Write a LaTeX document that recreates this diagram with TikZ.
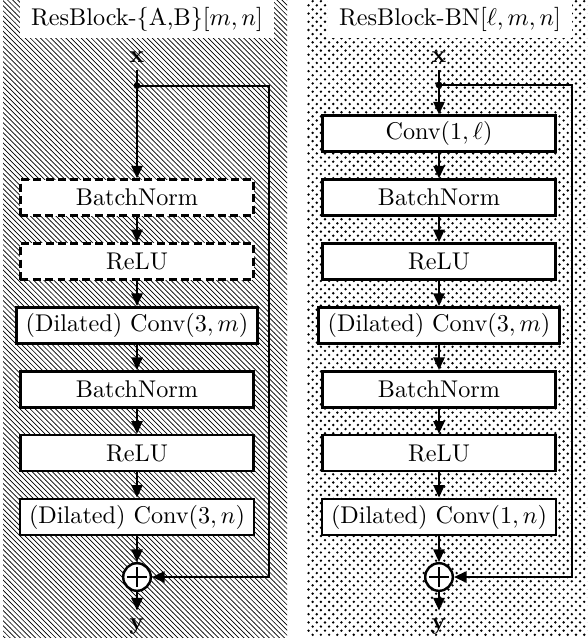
\documentclass[tikz,border=0pt]{standalone}
\usetikzlibrary{patterns,arrows.meta}

% fine diagonal hatching and fine staggered dots for the two panels
\pgfdeclarepatternformonly{fine nw lines}{\pgfqpoint{-0.5pt}{-0.5pt}}{\pgfqpoint{2.6pt}{2.6pt}}{\pgfqpoint{2.1pt}{2.1pt}}{%
  \pgfsetlinewidth{0.28pt}%
  \pgfpathmoveto{\pgfqpoint{-0.05pt}{2.15pt}}%
  \pgfpathlineto{\pgfqpoint{2.15pt}{-0.05pt}}%
  \pgfusepath{stroke}}
\pgfdeclarepatternformonly{fine dots}{\pgfqpoint{-0.7pt}{-0.7pt}}{\pgfqpoint{2.4pt}{2.4pt}}{\pgfqpoint{3.4pt}{3.4pt}}{%
  \pgfpathcircle{\pgfqpoint{0pt}{0pt}}{0.55pt}%
  \pgfpathcircle{\pgfqpoint{1.7pt}{1.7pt}}{0.55pt}%
  \pgfusepath{fill}}

\begin{document}
\begin{tikzpicture}[x=0.41322pt,y=-0.41322pt,
  blk/.style={draw,line width=1.1pt,fill=white,minimum width=96.3pt,
    minimum height=14.9pt,inner xsep=3.75pt,inner ysep=2pt},
  optblk/.style={blk,dash pattern=on 3.3pt off 1.8pt},
  flow/.style={line width=0.9pt,-{Triangle[length=5.2pt,width=4.6pt]}},
  sum/.style={circle,draw,line width=1pt,fill=white,minimum size=11.4pt,
    inner sep=0pt,path picture={
      \draw[line width=0.8pt]
        ([xshift=-4.2pt]path picture bounding box.center) --
        ([xshift=4.2pt]path picture bounding box.center)
        ([yshift=-4.2pt]path picture bounding box.center) --
        ([yshift=4.2pt]path picture bounding box.center);}},
  title/.style={fill=white,inner xsep=4.6pt,inner ysep=2.85pt},
  io/.style={inner sep=3pt}]

\useasboundingbox (0,0) rectangle (587,643);
\fill[white] (0,0) rectangle (587,643);
\fill[pattern=fine nw lines] (3,0) rectangle (287,637);
\fill[pattern=fine dots] (307,0) rectangle (587,637);

% ---- ResBlock-{A,B}
\node[title] (tL) at (147,19) {ResBlock-\{A,B\}$[m,n]$};
\node[io] (xL) at (137,57) {$\mathbf{x}$};
\node[optblk] (bnaL) at (137,197.7) {BatchNorm};
\node[optblk] (reaL) at (137,261.5) {ReLU};
\node[blk] (cvaL) at (137,325.4) {(Dilated) Conv$(3,m)$};
\node[blk] (bnbL) at (137,389.3) {BatchNorm};
\node[blk] (rebL) at (137,453.1) {ReLU};
\node[blk] (cvbL) at (137,517) {(Dilated) Conv$(3,n)$};
\node[sum] (sL) at (137,577) {};
\node[io] (yL) at (137,626) {$\mathbf{y}$};
\coordinate (jL) at (137,85.7);
\coordinate (jL1) at (269.3,85.7);
\coordinate (jL2) at (269.3,577);

\draw[flow] (xL) -- (bnaL);
\draw[flow] (bnaL) -- (reaL);
\draw[flow] (reaL) -- (cvaL);
\draw[flow] (cvaL) -- (bnbL);
\draw[flow] (bnbL) -- (rebL);
\draw[flow] (rebL) -- (cvbL);
\draw[flow] (cvbL) -- (sL);
\draw[flow] (sL) -- (yL);
\draw[flow] (jL) -- (jL1) -- (jL2) -- (sL.east);
\fill (jL) circle (1.4pt);

% ---- ResBlock-BN
\node[title] (tR) at (450,19) {ResBlock-BN$[\ell,m,n]$};
\node[io] (xR) at (439,57) {$\mathbf{x}$};
\node[blk] (cvaR) at (439,133.8) {Conv$(1,\ell)$};
\node[blk] (bnaR) at (439,197.7) {BatchNorm};
\node[blk] (reaR) at (439,261.5) {ReLU};
\node[blk] (cvbR) at (439,325.4) {(Dilated) Conv$(3,m)$};
\node[blk] (bnbR) at (439,389.3) {BatchNorm};
\node[blk] (rebR) at (439,453.1) {ReLU};
\node[blk] (cvcR) at (439,517) {(Dilated) Conv$(1,n)$};
\node[sum] (sR) at (439,577) {};
\node[io] (yR) at (439,626) {$\mathbf{y}$};
\coordinate (jR) at (439,85);
\coordinate (jR1) at (571.7,85);
\coordinate (jR2) at (571.7,577);

\draw[flow] (xR) -- (cvaR);
\draw[flow] (cvaR) -- (bnaR);
\draw[flow] (bnaR) -- (reaR);
\draw[flow] (reaR) -- (cvbR);
\draw[flow] (cvbR) -- (bnbR);
\draw[flow] (bnbR) -- (rebR);
\draw[flow] (rebR) -- (cvcR);
\draw[flow] (cvcR) -- (sR);
\draw[flow] (sR) -- (yR);
\draw[flow] (jR) -- (jR1) -- (jR2) -- (sR.east);
\fill (jR) circle (1.4pt);
\end{tikzpicture}
\end{document}
